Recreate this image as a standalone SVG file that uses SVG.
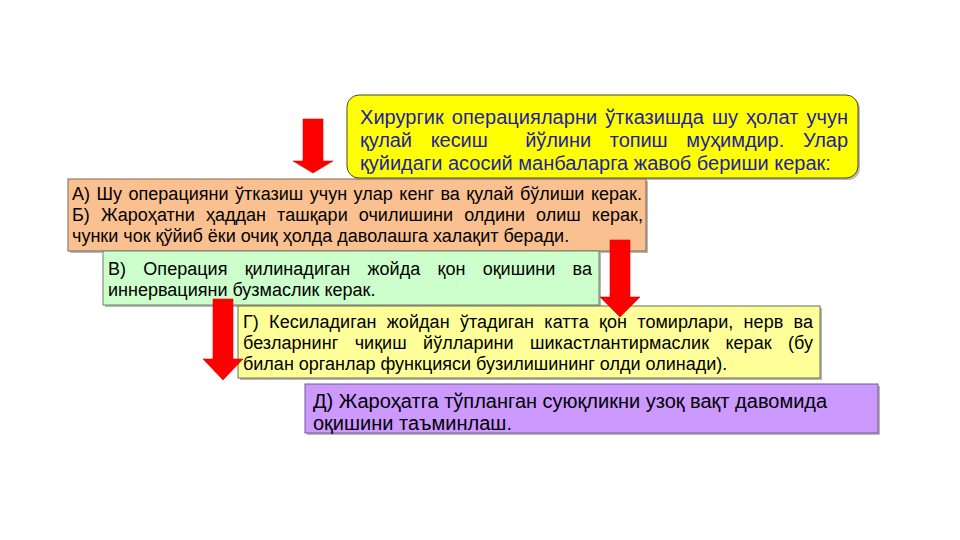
<svg xmlns="http://www.w3.org/2000/svg" width="960" height="540" viewBox="0 0 960 540">
<style>
text{font-family:"Liberation Sans",Arial,sans-serif;font-size:18px;fill:#000}
.t20{font-size:20px}
.blue{fill:#1E1EA0}
.sh{fill:#000;opacity:.28}
.box{stroke-width:1}
.arrow{fill:#FF0000;stroke:#E00000;stroke-width:0.6}
</style>
<rect width="960" height="540" fill="#fff"/>
<g id="node-intro">
<rect class="sh" x="349" y="97" width="511" height="83" rx="12"/>
<rect class="box" x="347" y="95" width="511" height="83" rx="12" fill="#FFFF00" stroke="#4a4a2a"/>
<text class="t20 blue" x="360" y="124" word-spacing="2.4" textLength="488" lengthAdjust="spacing">Хирургик операцияларни ўтказишда шу ҳолат учун</text>
<text class="t20 blue" x="360" y="147" word-spacing="13.3" textLength="488" lengthAdjust="spacing" xml:space="preserve">қулай кесиш  йўлини топиш муҳимдир. Улар</text>
<text class="t20 blue" x="360" y="170">қуйидаги асосий манбаларга жавоб бериши керак:</text>
</g>
<g id="node-a-b">
<rect class="sh" x="70" y="181" width="578" height="72"/>
<rect class="box" x="68" y="179" width="578" height="72" fill="#FAC090" stroke="#7a6a5a"/>
<text x="72" y="200" word-spacing="1.4" textLength="570" lengthAdjust="spacing">А) Шу операцияни ўтказиш учун улар кенг ва қулай бўлиши керак.</text>
<text x="72" y="221" word-spacing="6" textLength="571" lengthAdjust="spacing">Б) Жароҳатни ҳаддан ташқари очилишини олдини олиш керак,</text>
<text x="72" y="242">чунки чок қўйиб ёки очиқ ҳолда даволашга халақит беради.</text>
</g>
<g id="node-v">
<rect class="sh" x="105" y="253" width="496" height="54"/>
<rect class="box" x="103" y="251" width="496" height="54" fill="#CCFFCC" stroke="#6f7f6f"/>
<text x="108" y="275" word-spacing="12.2" textLength="484" lengthAdjust="spacing">В) Операция қилинадиган жойда қон оқишини ва</text>
<text x="108" y="296">иннервацияни бузмаслик керак.</text>
</g>
<g id="node-g">
<rect class="sh" x="240" y="308" width="582" height="72"/>
<rect class="box" x="238" y="306" width="582" height="72" fill="#FFFF99" stroke="#6f6f4f"/>
<text x="243" y="328" word-spacing="5.2" textLength="570" lengthAdjust="spacing">Г) Кесиладиган жойдан ўтадиган катта қон томирлари, нерв ва</text>
<text x="243" y="349" word-spacing="11.3" textLength="570" lengthAdjust="spacing">безларнинг чиқиш йўлларини шикастлантирмаслик керак (бу</text>
<text x="243" y="370">билан органлар функцияси бузилишининг олди олинади).</text>
</g>
<g id="node-d">
<rect class="sh" x="307" y="386" width="573" height="49"/>
<rect class="box" x="305" y="384" width="573" height="49" fill="#CC99FF" stroke="#6f5a8f"/>
<text class="t20" x="313" y="408">Д) Жароҳатга тўпланган суюқликни узоқ вақт давомида</text>
<text class="t20" x="313" y="430">оқишини таъминлаш.</text>
</g>
<g id="connectors">
<path class="arrow" d="M303,119 H323 V161 H333 L313,173 L293,161 H303 Z"/>
<path class="arrow" d="M610,240 H630 V297 H640 L620,317 L600,297 H610 Z"/>
<path class="arrow" d="M213,299 H233 V359 H243 L223,380 L203,359 H213 Z"/>
</g>
</svg>
